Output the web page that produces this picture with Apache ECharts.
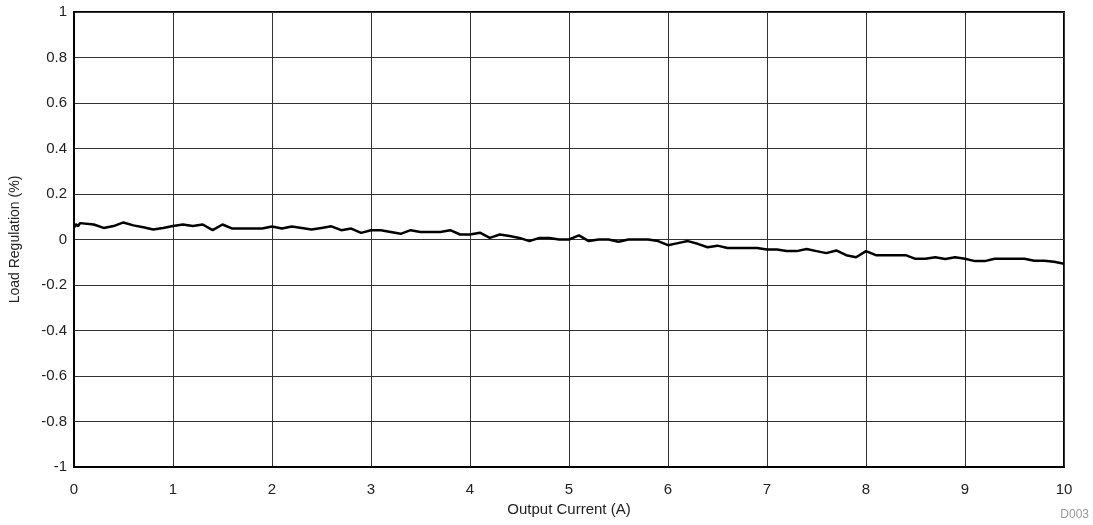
<!DOCTYPE html>
<html>
<head>
<meta charset="utf-8">
<script src="https://cdn.jsdelivr.net/npm/echarts@6/dist/echarts.min.js"></script>
<style>
  html, body { margin: 0; padding: 0; background: #fff; }
  #chart { width: 1093px; height: 525px; }
</style>
</head>
<body>
<div id="chart"></div>
<script>
// Output current (A)
const current = [
  0, 0.02, 0.04, 0.06, 0.08, 0.2, 0.3, 0.4, 0.5, 0.6, 0.7, 0.8, 0.9, 1.0,
  1.1, 1.2, 1.3, 1.4, 1.5, 1.6, 1.7, 1.8, 1.9, 2.0, 2.1, 2.2, 2.3, 2.4,
  2.5, 2.6, 2.7, 2.8, 2.9, 3.0, 3.1, 3.2, 3.3, 3.4, 3.5, 3.6, 3.7, 3.8,
  3.9, 4.0, 4.1, 4.2, 4.3, 4.4, 4.5, 4.6, 4.7, 4.8, 4.9, 5.0, 5.1, 5.2,
  5.3, 5.4, 5.5, 5.6, 5.7, 5.8, 5.9, 6.0, 6.1, 6.2, 6.3, 6.4, 6.5, 6.6,
  6.7, 6.8, 6.9, 7.0, 7.1, 7.2, 7.3, 7.4, 7.5, 7.6, 7.7, 7.8, 7.9, 8.0,
  8.1, 8.2, 8.3, 8.4, 8.5, 8.6, 8.7, 8.8, 8.9, 9.0, 9.1, 9.2, 9.3, 9.4,
  9.5, 9.6, 9.7, 9.8, 9.9, 10.0
];

// Load regulation (%)
const regulation = [
  0.052, 0.068, 0.058, 0.072, 0.066, 0.066, 0.051, 0.059, 0.075, 0.062, 0.054, 0.044, 0.051, 0.059,
  0.066, 0.059, 0.066, 0.041, 0.066, 0.048, 0.048, 0.048, 0.048, 0.057, 0.048, 0.057, 0.051, 0.044,
  0.051, 0.058, 0.041, 0.048, 0.029, 0.041, 0.041, 0.033, 0.025, 0.041, 0.033, 0.033, 0.033, 0.041,
  0.022, 0.022, 0.030, 0.007, 0.022, 0.015, 0.007, -0.007, 0.007, 0.007, 0.000, 0.000, 0.018, -0.007,
  0.000, 0.000, -0.010, 0.000, 0.000, 0.000, -0.007, -0.025, -0.016, -0.007, -0.019, -0.034, -0.027, -0.037,
  -0.037, -0.037, -0.037, -0.044, -0.044, -0.051, -0.051, -0.042, -0.051, -0.060, -0.048, -0.069, -0.078, -0.051,
  -0.069, -0.069, -0.069, -0.069, -0.085, -0.085, -0.078, -0.086, -0.078, -0.085, -0.095, -0.095, -0.085, -0.085,
  -0.085, -0.085, -0.093, -0.093, -0.098, -0.107
];

const xTicks = [0, 1, 2, 3, 4, 5, 6, 7, 8, 9, 10];
const yTicks = [-1, -0.8, -0.6, -0.4, -0.2, 0, 0.2, 0.4, 0.6, 0.8, 1];

const font = 'Liberation Sans, Arial, sans-serif';
const chart = echarts.init(document.getElementById('chart'), null, { renderer: 'canvas' });

chart.setOption({
  animation: false,
  backgroundColor: '#fff',
  grid: {
    left: 74, right: 29, top: 12, bottom: 58,
    show: true, borderColor: '#000', borderWidth: 2, backgroundColor: 'transparent'
  },
  xAxis: {
    type: 'value',
    min: xTicks[0], max: xTicks[xTicks.length - 1], interval: 1,
    name: 'Output Current (A)',
    nameLocation: 'middle', nameGap: 33,
    nameTextStyle: { fontFamily: font, fontSize: 15, color: '#222' },
    axisLine: { show: true, onZero: false, lineStyle: { color: '#000', width: 2 } },
    axisTick: { show: false },
    axisLabel: { fontFamily: font, fontSize: 15, color: '#222', margin: 15 },
    splitLine: { show: true, lineStyle: { color: '#333', width: 1 } }
  },
  yAxis: {
    type: 'value',
    min: yTicks[0], max: yTicks[yTicks.length - 1], interval: 0.2,
    name: 'Load Regulation (%)',
    nameLocation: 'middle', nameGap: 52, nameRotate: 90,
    nameTextStyle: { fontFamily: font, fontSize: 14, color: '#222' },
    axisLine: { show: true, onZero: false, lineStyle: { color: '#000', width: 2 } },
    axisTick: { show: false },
    axisLabel: {
      fontFamily: font, fontSize: 15, color: '#222', margin: 7,
      formatter: v => String(Math.round(v * 10) / 10)
    },
    splitLine: { show: true, lineStyle: { color: '#333', width: 1 } }
  },
  graphic: [{
    type: 'text', right: 4, bottom: 4,
    style: { text: 'D003', fontFamily: font, fontSize: 12, fill: '#999' }
  }],
  series: [{
    type: 'line',
    data: current.map((c, i) => [c, regulation[i]]),
    showSymbol: false,
    lineStyle: { color: '#000', width: 2.5 },
    z: 5
  }]
});
</script>
</body>
</html>
